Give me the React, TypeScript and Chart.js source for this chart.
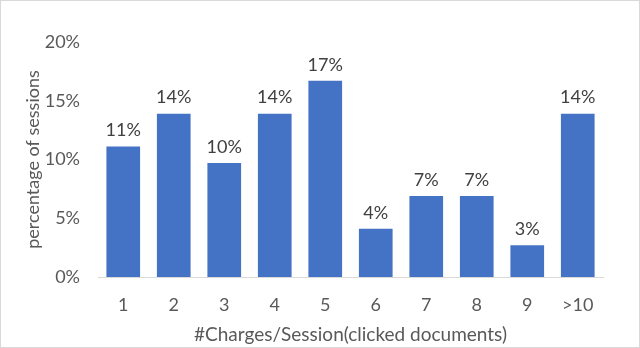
import React, { useEffect, useRef } from "react";
import { Chart, registerables } from "chart.js";

Chart.register(...registerables);

const categories = ["1", "2", "3", "4", "5", "6", "7", "8", "9", ">10"];
const sessionShare = [11.1, 13.9, 9.7, 13.9, 16.7, 4.1, 6.9, 6.9, 2.7, 13.9];
const yTicks = [0, 5, 10, 15, 20];

const FONT = "Lato, 'Open Sans', sans-serif";

const dataLabelPlugin = {
  id: "dataLabels",
  afterDatasetsDraw(chart: any) {
    const { ctx } = chart;
    const meta = chart.getDatasetMeta(0);
    ctx.save();
    ctx.font = `18px ${FONT}`;
    ctx.fillStyle = "#404040";
    ctx.textAlign = "center";
    ctx.textBaseline = "bottom";
    meta.data.forEach((bar: any, i: number) => {
      const v = chart.data.datasets[0].data[i] as number;
      ctx.fillText(`${Math.round(v)}%`, bar.x, bar.y - 7);
    });
    ctx.restore();
  },
};

export default function App() {
  const ref = useRef<HTMLCanvasElement>(null);
  useEffect(() => {
    if (!ref.current) return;
    const chart = new Chart(ref.current, {
      type: "bar",
      data: {
        labels: categories,
        datasets: [
          {
            data: sessionShare,
            backgroundColor: "#4472C4",
            borderWidth: 0,
            categoryPercentage: 1,
            barPercentage: 0.667,
          },
        ],
      },
      options: {
        responsive: false,
        animation: false,
        layout: { padding: { top: 41, right: 36, left: 0, bottom: 0 } },
        plugins: {
          legend: { display: false },
          tooltip: { enabled: false },
        },
        scales: {
          x: {
            grid: { display: false, drawTicks: false },
            border: { display: true, color: "#d9d9d9", width: 1 },
            ticks: {
              color: "#595959",
              font: { family: FONT, size: 18 },
              padding: 17,
              maxRotation: 0,
            },
            title: {
              display: true,
              text: "#Charges/Session(clicked documents)",
              color: "#595959",
              font: { family: FONT, size: 19 },
              padding: { top: 0, bottom: 1 },
            },
            afterFit: (s: any) => {
              s.height = 70;
            },
          },
          y: {
            min: 0,
            max: 20,
            grid: { display: false, drawTicks: false },
            border: { display: false },
            afterBuildTicks: (s: any) => {
              s.ticks = yTicks.map((v) => ({ value: v }));
            },
            ticks: {
              color: "#595959",
              font: { family: FONT, size: 18 },
              padding: 18,
              callback: (v: any) => `${v}%`,
            },
            title: {
              display: true,
              text: "percentage of sessions",
              color: "#595959",
              font: { family: FONT, size: 18 },
              padding: { top: 21, bottom: 0 },
            },
            afterFit: (s: any) => {
              s.width = 97;
            },
          },
        },
      },
      plugins: [dataLabelPlugin],
    });
    return () => chart.destroy();
  }, []);

  return (
    <div
      style={{
        position: "fixed",
        left: 0,
        top: 0,
        width: 640,
        height: 348,
        boxSizing: "border-box",
        border: "1px solid #d9d9d9",
        background: "#fff",
      }}
    >
      <canvas ref={ref} width={638} height={346} style={{ display: "block" }} />
    </div>
  );
}
